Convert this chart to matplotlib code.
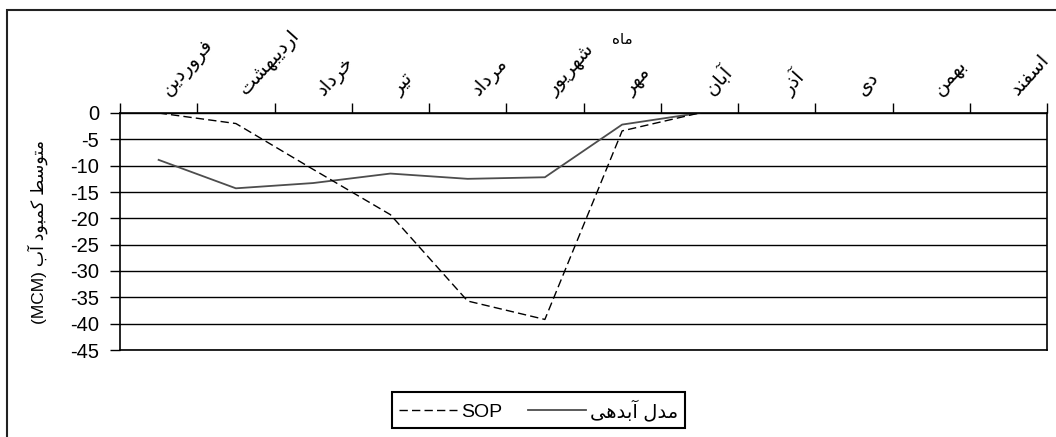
import numpy as np
import matplotlib
matplotlib.use("Agg")
import matplotlib.pyplot as plt
from matplotlib.patches import Rectangle

plt.rcParams['font.family'] = ['Liberation Sans', 'DejaVu Sans']
plt.rcParams['axes.unicode_minus'] = False

# data
months = ["فروردین", "اردیبهشت", "خرداد", "تیر", "مرداد", "شهریور",
          "مهر", "آبان", "آذر", "دی", "بهمن", "اسفند"]
sop = [0, -2.0, -10.7, -19.3, -35.7, -39.2, -3.4, 0,
       np.nan, np.nan, np.nan, np.nan]
model = [-8.9, -14.3, -13.3, -11.5, -12.5, -12.2, -2.2, 0,
         np.nan, np.nan, np.nan, np.nan]
y_ticks = list(range(-45, 1, 5))
xlabel_fa = "ماه"
ylabel_fa = "متوسط کمبود آب"
ylabel_unit = "(MCM)"
sop_name = "SOP"
model_name = "مدل آبدهی"

# simple arabic-script shaping (isolated, final, initial, medial)
FORMS = {
    'ا': ('\uFE8D', '\uFE8E', None, None),
    'آ': ('\uFE81', '\uFE82', None, None),
    'ب': ('\uFE8F', '\uFE90', '\uFE91', '\uFE92'),
    'ت': ('\uFE95', '\uFE96', '\uFE97', '\uFE98'),
    'خ': ('\uFEA5', '\uFEA6', '\uFEA7', '\uFEA8'),
    'د': ('\uFEA9', '\uFEAA', None, None),
    'ذ': ('\uFEAB', '\uFEAC', None, None),
    'ر': ('\uFEAD', '\uFEAE', None, None),
    'س': ('\uFEB1', '\uFEB2', '\uFEB3', '\uFEB4'),
    'ش': ('\uFEB5', '\uFEB6', '\uFEB7', '\uFEB8'),
    'ط': ('\uFEC1', '\uFEC2', '\uFEC3', '\uFEC4'),
    'ف': ('\uFED1', '\uFED2', '\uFED3', '\uFED4'),
    'ل': ('\uFEDD', '\uFEDE', '\uFEDF', '\uFEE0'),
    'م': ('\uFEE1', '\uFEE2', '\uFEE3', '\uFEE4'),
    'ن': ('\uFEE5', '\uFEE6', '\uFEE7', '\uFEE8'),
    'ه': ('\uFEE9', '\uFEEA', '\uFEEB', '\uFEEC'),
    'و': ('\uFEED', '\uFEEE', None, None),
    'ی': ('\uFBFC', '\uFBFD', '\uFBFE', '\uFBFF'),
    'ک': ('\uFB8E', '\uFB8F', '\uFB90', '\uFB91'),
}


def shape(s):
    out = []
    for i, ch in enumerate(s):
        if ch not in FORMS:
            out.append(ch)
            continue
        iso, fin, ini, med = FORMS[ch]
        prev = s[i - 1] if i > 0 else None
        nxt = s[i + 1] if i < len(s) - 1 else None
        jp = prev in FORMS and FORMS[prev][2] is not None
        jn = ini is not None and nxt in FORMS
        if jp and jn:
            out.append(med)
        elif jp:
            out.append(fin)
        elif jn:
            out.append(ini)
        else:
            out.append(iso)
    return ''.join(out[::-1])


fig = plt.figure(figsize=(10.56, 4.37), dpi=100)
ax = fig.add_axes([120 / 1056, 1 - 350 / 437, 927 / 1056, 237 / 437])

x = np.arange(len(months)) + 0.5
l_model, = ax.plot(x, model, color='#4d4d4d', lw=1.3)
l_sop, = ax.plot(x, sop, color='black', lw=1.0, ls=(0, (6, 3)))

ax.set_xlim(0, len(months))
ax.set_ylim(-45, 0)
ax.set_yticks(y_ticks)
ax.yaxis.grid(True, color='black', lw=1.0)
ax.set_axisbelow(True)
ax.tick_params(axis='y', direction='out', length=7, width=1, pad=8,
               labelsize=14.5)

ax.xaxis.set_ticks_position('top')
ax.set_xticks(range(len(months) + 1))
ax.set_xticklabels([])
ax.set_xticks(x, minor=True)
ax.set_xticklabels([shape(m) for m in months], minor=True, rotation=48,
                   ha='left', va='bottom', fontsize=14)
ax.tick_params(axis='x', which='major', direction='out', length=7, width=1,
               top=True, bottom=False)
ax.tick_params(axis='x', which='minor', length=0, pad=10, top=True,
               bottom=False, labeltop=True, labelbottom=False)

for sp in ax.spines.values():
    sp.set_color('black')
    sp.set_linewidth(1.2)

ax.set_ylabel(ylabel_unit + " " + shape(ylabel_fa), fontsize=12.5,
              labelpad=16)
fig.text(622 / 1056, 1 - 40 / 437, shape(xlabel_fa), fontsize=11,
         ha='center', va='center')

leg = fig.legend([l_sop, l_model], [sop_name, shape(model_name)],
                 loc='center', bbox_to_anchor=(0.51, 0.062), ncol=2,
                 frameon=True, fancybox=False, edgecolor='black',
                 framealpha=1, fontsize=14, handlelength=3.0,
                 columnspacing=1.3, handletextpad=0.2, borderpad=0.35,
                 borderaxespad=0)
leg.get_frame().set_linewidth(1.5)

# outer chart border (cut off at right and bottom)
fig.add_artist(Rectangle((7 / 1056, -0.5), 2, 0.5 + 1 - 10 / 437,
                         fill=False, lw=1.5, ec='#222222',
                         transform=fig.transFigure))

fig.savefig('out.png', dpi=100)
